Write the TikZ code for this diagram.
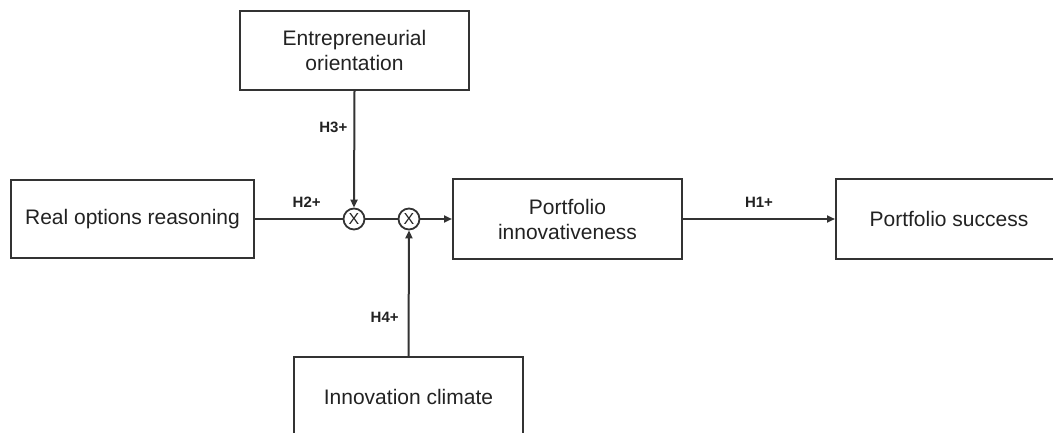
\documentclass[tikz,border=0pt]{standalone}
\usepackage{fontspec}
\setmainfont{Liberation Sans}
\usetikzlibrary{arrows.meta}
\definecolor{linegray}{HTML}{333333}
\definecolor{textgray}{HTML}{222222}
\tikzset{
  box/.style={draw=linegray, line width=2pt, fill=white, align=center,
    text=textgray, inner sep=0pt, font=\fontsize{21}{25}\selectfont},
  mult/.style={draw=linegray, line width=1.8pt, circle, fill=white,
    minimum size=21pt, inner sep=0pt, text=textgray,
    font=\fontsize{16}{16}\selectfont},
  link/.style={draw=linegray, line width=2pt},
  arr/.style={link, -{Triangle[length=8pt,width=7pt]}},
  hyp/.style={text=textgray, inner sep=2pt, font=\bfseries\fontsize{15}{18}\selectfont}
}
\begin{document}
\begin{tikzpicture}[x=1pt,y=-1pt]
\useasboundingbox (0,0) rectangle (1053,433);
% boxes
\node[box, minimum width=229pt, minimum height=79pt] (eo) at (354.5,50.5) {Entrepreneurial\\orientation};
\node[box, minimum width=243pt, minimum height=78pt] (ror) at (132.5,219) {Real options reasoning};
\node[box, minimum width=229pt, minimum height=79pt] (pi) at (567.5,219) {Portfolio\\innovativeness};
\node[box, minimum width=226pt, minimum height=79pt] (ps) at (949,219) {Portfolio success};
\node[box, minimum width=229pt, minimum height=79pt] (ic) at (408.5,396.5) {Innovation climate};
% interaction terms
\node[mult] (x1) at (354,219) {X};
\node[mult] (x2) at (409,219) {X};
% paths
\draw[link] (ror.east) -- node[hyp, pos=0.59, anchor=south, yshift=8.5pt] (h2) {H2+} (x1.west);
\draw[arr] (eo.south) -- node[hyp, pos=0.31, anchor=east, xshift=-4pt] (h3) {H3+} (x1.north);
\draw[link] (x1.east) -- (x2.west);
\draw[arr] (ic.north) -- node[hyp, pos=0.31, anchor=east, xshift=-7pt] (h4) {H4+} (x2.south);
\draw[arr] (x2.east) -- (pi.west);
\draw[arr] (pi.east) -- node[hyp, pos=0.5, anchor=south, yshift=8.5pt] (h1) {H1+} (ps.west);
\end{tikzpicture}
\end{document}
